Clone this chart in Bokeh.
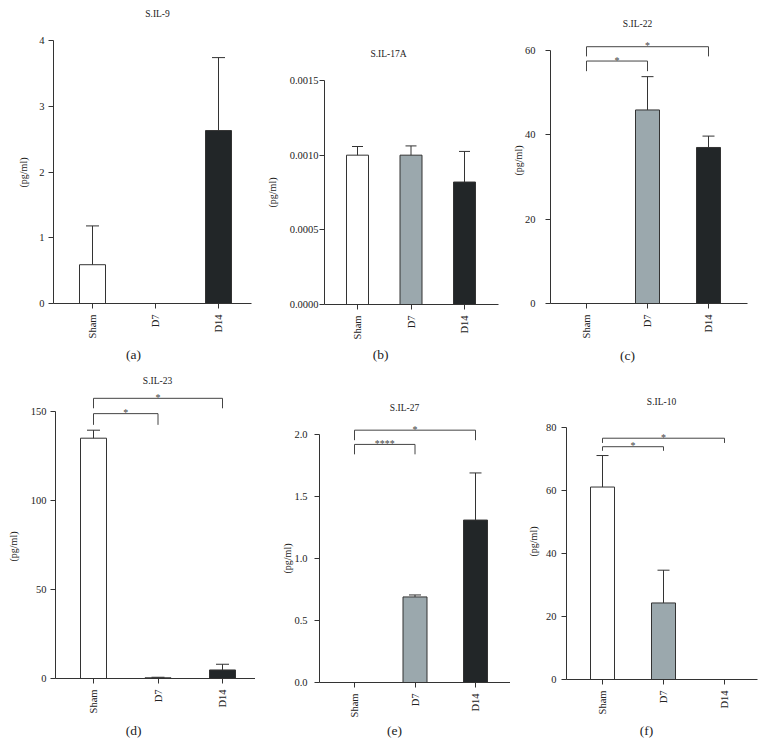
import math
from bokeh.plotting import figure
from bokeh.layouts import gridplot
from bokeh.models import Range1d, FixedTicker, Label, NumeralTickFormatter, ColumnDataSource
from bokeh.core.properties import value
from bokeh.embed import file_html
from bokeh.resources import INLINE

# ---------------- data ----------------
categories = ["Sham", "D7", "D14"]
bar_colors = ["#ffffff", "#9ba8ad", "#222628"]

il9_mean = [0.59, 0.0, 2.63]
il9_sd = [0.59, 0.0, 1.11]
il9_ticks = [0, 1, 2, 3, 4]

il17a_mean = [0.00100, 0.00100, 0.00082]
il17a_sd = [0.000058, 0.000062, 0.000205]
il17a_ticks = [0.0, 0.0005, 0.0010, 0.0015]

il22_mean = [0.0, 45.9, 37.0]
il22_sd = [0.0, 7.9, 2.7]
il22_ticks = [0, 20, 40, 60]
il22_brackets = [(0, 1, 57.5, 55.1, "*"), (0, 2, 60.9, 58.6, "*")]

il23_mean = [135.0, 0.4, 4.8]
il23_sd = [4.5, 0.3, 3.2]
il23_ticks = [0, 50, 100, 150]
il23_brackets = [(0, 1, 148.8, 142.5, "*"), (0, 2, 157.4, 151.8, "*")]

il27_mean = [0.0, 0.69, 1.31]
il27_sd = [0.0, 0.016, 0.38]
il27_ticks = [0.0, 0.5, 1.0, 1.5, 2.0]
il27_brackets = [(0, 1, 1.92, 1.84, "****"), (0, 2, 2.035, 1.954, "*")]

il10_mean = [61.1, 24.3, 0.0]
il10_sd = [10.0, 10.4, 0.0]
il10_ticks = [0, 20, 40, 60, 80]
il10_brackets = [(0, 1, 73.9, 72.6, "*"), (0, 2, 76.6, 75.1, "*")]

# ---------------- layout (page pixel geometry) ----------------
FONT = "Liberation Serif"
TXT = "#222222"
AX = "#333333"

col_x = [0, 255, 510]
col_w = [255, 255, 255]
row_y = [0, 372]
row_h = [372, 384]

panels = [
    dict(title="S.IL-9", letter="(a)", mean=il9_mean, sd=il9_sd, ticks=il9_ticks, fmt="0",
         brackets=[], frame=(53, 251, 303, 40), cats=(92, 218), bw=26, ystand=4,
         tpos=(157, 13), lpos=(133, 354), ypos=(23, 172)),
    dict(title="S.IL-17A", letter="(b)", mean=il17a_mean, sd=il17a_sd, ticks=il17a_ticks, fmt="0.0000",
         brackets=[], frame=(324, 498, 304, 80), cats=(357, 464), bw=22, ystand=1,
         tpos=(388, 53), lpos=(380, 354), ypos=(272, 192)),
    dict(title="S.IL-22", letter="(c)", mean=il22_mean, sd=il22_sd, ticks=il22_ticks, fmt="0",
         brackets=il22_brackets, frame=(550, 747, 303, 50), cats=(586, 708), bw=24, ystand=10,
         tpos=(637, 23), lpos=(627, 355), ypos=(518, 160)),
    dict(title="S.IL-23", letter="(d)", mean=il23_mean, sd=il23_sd, ticks=il23_ticks, fmt="0",
         brackets=il23_brackets, frame=(55, 255, 678, 411), cats=(93, 222), bw=26, ystand=4,
         tpos=(157, 380), lpos=(133, 730), ypos=(13, 546)),
    dict(title="S.IL-27", letter="(e)", mean=il27_mean, sd=il27_sd, ticks=il27_ticks, fmt="0.0",
         brackets=il27_brackets, frame=(319, 510, 682, 434), cats=(354, 475), bw=24, ystand=7,
         tpos=(404, 407), lpos=(394, 730), ypos=(287, 558)),
    dict(title="S.IL-10", letter="(f)", mean=il10_mean, sd=il10_sd, ticks=il10_ticks, fmt="0",
         brackets=il10_brackets, frame=(566, 757, 679, 427), cats=(602, 724), bw=24, ystand=5,
         tpos=(661, 401), lpos=(646, 730), ypos=(533, 541)),
]


def make_panel(cfg, cx, cy, cw, ch):
    L, R, B, T = cfg["frame"]
    c0, c2 = cfg["cats"]
    sp = (c2 - c0) / 2.0
    ymax = cfg["ticks"][-1]
    ys = ymax / float(B - T)

    def dx(px):
        return (px - c0) / sp

    def dy(py):
        return (B - py) * ys

    # the plotting frame covers the whole cell; axes are pinned at fixed data locations
    p = figure(width=cw, height=ch, output_backend="svg", toolbar_location=None, title=None,
               x_range=Range1d(dx(cx), dx(cx + cw)), y_range=Range1d(dy(cy + ch), dy(cy)),
               min_border_left=0, min_border_right=0, min_border_top=0, min_border_bottom=0)
    p.outline_line_color = None
    p.xgrid.visible = False
    p.ygrid.visible = False
    p.background_fill_color = "white"
    p.border_fill_color = "white"

    xs = list(range(len(categories)))
    bw = cfg["bw"] / sp
    src = ColumnDataSource(dict(x=xs, top=cfg["mean"], color=bar_colors))
    p.vbar(x="x", top="top", width=bw, bottom=0, source=src, fill_color="color",
           line_color=AX, line_width=1)

    # upper error bars
    ex, ey0, ey1, cx0, cx1 = [], [], [], [], []
    for i, (m, s) in enumerate(zip(cfg["mean"], cfg["sd"])):
        if s > 0:
            ex.append(i); ey0.append(m); ey1.append(m + s)
            cx0.append(i - bw / 4.0); cx1.append(i + bw / 4.0)
    if ex:
        p.segment(x0=ex, y0=ey0, x1=ex, y1=ey1, line_color=AX, line_width=1)
        p.segment(x0=cx0, y0=ey1, x1=cx1, y1=ey1, line_color=AX, line_width=1)

    # significance brackets
    if cfg["brackets"]:
        bxs, bys, sx, sy, st = [], [], [], [], []
        for (i, j, h, lo, s) in cfg["brackets"]:
            bxs.append([i, i, j, j]); bys.append([lo, h, h, lo])
            sx.append((i + j) / 2.0); sy.append(h); st.append(s)
        p.multi_line(xs=bxs, ys=bys, line_color="#444444", line_width=1)
        p.text(x=sx, y=sy, text=st, text_align="center", text_baseline="alphabetic",
               y_offset=-1, text_font=value(FONT), text_font_size="10px", text_color="#444444")

    # axes
    yax = p.yaxis[0]
    yax.fixed_location = dx(L)
    yax.ticker = FixedTicker(ticks=cfg["ticks"])
    yax.formatter = NumeralTickFormatter(format=cfg["fmt"])
    yax.bounds = (0, ymax)
    xax = p.xaxis[0]
    xax.fixed_location = 0
    xax.ticker = FixedTicker(ticks=xs)
    xax.bounds = (dx(L), dx(R))
    xax.major_label_overrides = {i: c for i, c in enumerate(categories)}
    xax.major_label_orientation = math.pi / 2
    for ax in (xax, yax):
        ax.axis_line_color = AX
        ax.axis_line_width = 1
        ax.major_tick_line_color = AX
        ax.major_tick_out = 5
        ax.major_tick_in = 0
        ax.minor_tick_line_color = None
        ax.major_label_text_font = FONT
        ax.major_label_text_font_size = "10.5px"
        ax.major_label_text_color = TXT
    yax.major_label_standoff = cfg["ystand"]
    xax.major_label_standoff = 6

    common = dict(x_units="data", y_units="data", text_font=FONT, text_color=TXT,
                  text_align="center", text_baseline="middle")
    p.add_layout(Label(x=dx(cfg["tpos"][0]), y=dy(cfg["tpos"][1]), text=cfg["title"],
                       text_font_size="9.5px", **common))
    p.add_layout(Label(x=dx(cfg["lpos"][0]), y=dy(cfg["lpos"][1]), text=cfg["letter"],
                       text_font_size="13.5px", **common))
    p.add_layout(Label(x=dx(cfg["ypos"][0]), y=dy(cfg["ypos"][1]), text="(pg/ml)",
                       angle=math.pi / 2, text_font_size="10px", **common))
    return p


plots = []
for r in range(2):
    row = []
    for c in range(3):
        cfg = panels[r * 3 + c]
        row.append(make_panel(cfg, col_x[c], row_y[r], col_w[c], row_h[r]))
    plots.append(row)

grid = gridplot(plots, toolbar_location=None)

with open("out.html", "w") as f:
    f.write(file_html(grid, INLINE))
